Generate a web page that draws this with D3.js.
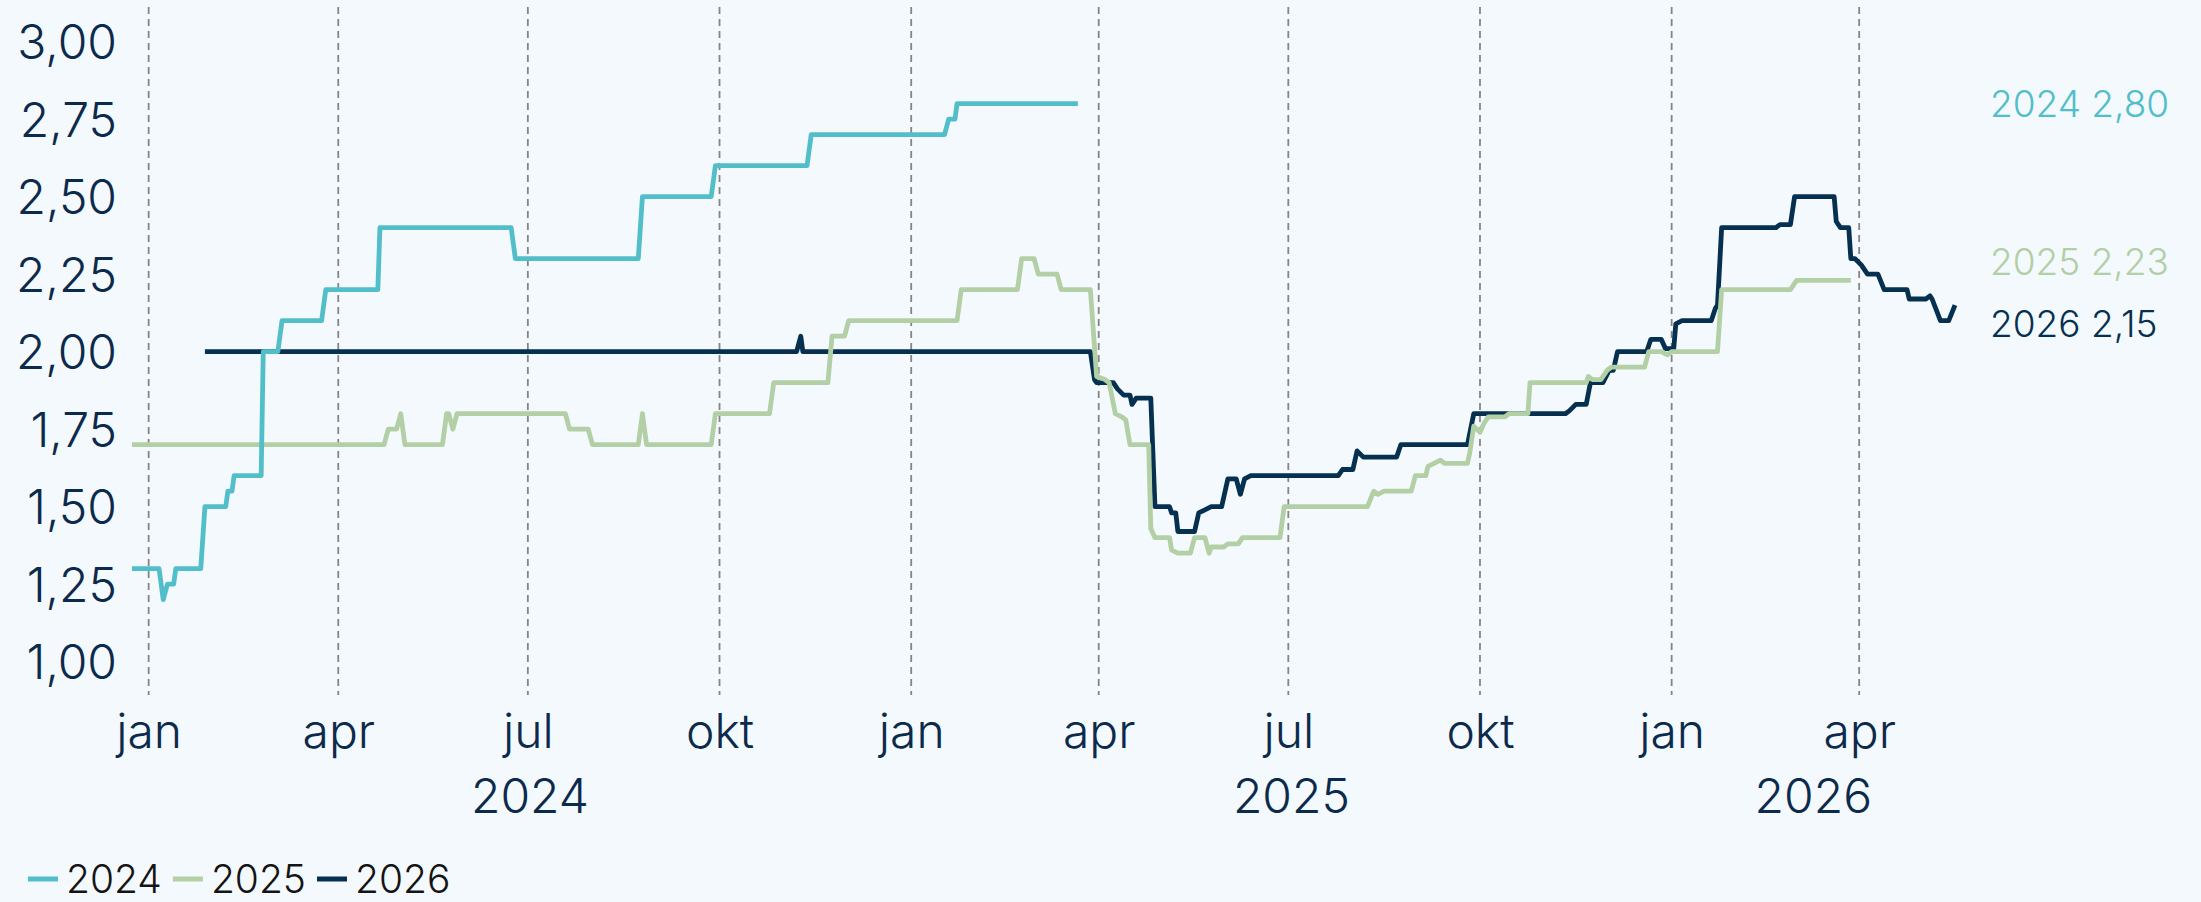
<!DOCTYPE html>
<html>
<head>
<meta charset="utf-8">
<script src="https://cdn.jsdelivr.net/npm/d3@7"></script>
<style>
  html, body { margin: 0; padding: 0; background: #f4f9fd; }
  svg { display: block; }
  text { font-family: Inter, "Open Sans", "DejaVu Sans", sans-serif; }
</style>
</head>
<body>
<svg id="chart" width="2201" height="902"></svg>
<script>
// Series definitions (legend order)
const seriesNames = ["2024", "2025", "2026"];
const seriesColors = ["#52bec9", "#b3cfa5", "#06304f"];

const dates2024 = ["2023-12-24","2024-01-06","2024-01-08","2024-01-10","2024-01-13","2024-01-14","2024-01-26","2024-01-28","2024-02-07","2024-02-08","2024-02-10","2024-02-11","2024-02-24","2024-02-25","2024-03-03","2024-03-05","2024-03-24","2024-03-26","2024-04-20","2024-04-21","2024-06-23","2024-06-25","2024-08-23","2024-08-25","2024-09-27","2024-09-29","2024-11-12","2024-11-14","2025-01-17","2025-01-19","2025-01-22","2025-01-23","2025-03-22"];
const values2024 = [1.30,1.30,1.20,1.25,1.25,1.30,1.30,1.50,1.50,1.55,1.55,1.60,1.60,2.00,2.00,2.10,2.10,2.20,2.20,2.40,2.40,2.30,2.30,2.50,2.50,2.60,2.60,2.70,2.70,2.75,2.75,2.80,2.80];

const dates2025 = ["2023-12-24","2024-04-23","2024-04-25","2024-04-29","2024-05-01","2024-05-03","2024-05-21","2024-05-23","2024-05-24","2024-05-26","2024-05-28","2024-07-19","2024-07-21","2024-07-30","2024-08-01","2024-08-23","2024-08-25","2024-08-27","2024-09-27","2024-09-29","2024-10-25","2024-10-27","2024-11-22","2024-11-24","2024-11-30","2024-12-02","2025-01-23","2025-01-25","2025-02-21","2025-02-23","2025-03-01","2025-03-03","2025-03-12","2025-03-14","2025-03-28","2025-03-31","2025-04-04","2025-04-06","2025-04-09","2025-04-12","2025-04-14","2025-04-16","2025-04-25","2025-04-26","2025-04-28","2025-05-05","2025-05-06","2025-05-09","2025-05-15","2025-05-17","2025-05-22","2025-05-24","2025-05-25","2025-05-31","2025-06-02","2025-06-07","2025-06-09","2025-06-27","2025-06-29","2025-08-08","2025-08-11","2025-08-13","2025-08-16","2025-08-29","2025-08-31","2025-09-05","2025-09-06","2025-09-09","2025-09-12","2025-09-14","2025-09-25","2025-09-26","2025-09-28","2025-10-01","2025-10-03","2025-10-05","2025-10-13","2025-10-15","2025-10-24","2025-10-25","2025-11-21","2025-11-22","2025-11-24","2025-11-28","2025-12-01","2025-12-03","2025-12-19","2025-12-21","2025-12-27","2025-12-30","2026-01-01","2026-01-23","2026-01-25","2026-02-27","2026-03-02","2026-03-28"];
const values2025 = [1.70,1.70,1.75,1.75,1.80,1.70,1.70,1.80,1.80,1.75,1.80,1.80,1.75,1.75,1.70,1.70,1.80,1.70,1.70,1.80,1.80,1.90,1.90,2.05,2.05,2.10,2.10,2.20,2.20,2.30,2.30,2.25,2.25,2.20,2.20,1.92,1.91,1.90,1.80,1.79,1.78,1.70,1.70,1.43,1.40,1.40,1.36,1.35,1.35,1.40,1.40,1.35,1.37,1.37,1.38,1.38,1.40,1.40,1.50,1.50,1.55,1.54,1.55,1.55,1.60,1.60,1.63,1.64,1.65,1.64,1.64,1.67,1.76,1.74,1.77,1.79,1.79,1.80,1.80,1.90,1.90,1.92,1.91,1.91,1.94,1.95,1.95,2.00,2.00,1.99,2.00,2.00,2.20,2.20,2.23,2.23];

const dates2026 = ["2024-01-28","2024-11-07","2024-11-09","2024-11-10","2025-03-28","2025-03-30","2025-03-31","2025-04-08","2025-04-10","2025-04-13","2025-04-16","2025-04-17","2025-04-19","2025-04-26","2025-04-28","2025-05-05","2025-05-06","2025-05-08","2025-05-09","2025-05-17","2025-05-19","2025-05-22","2025-05-25","2025-05-30","2025-06-02","2025-06-06","2025-06-08","2025-06-10","2025-06-13","2025-07-25","2025-07-27","2025-08-01","2025-08-03","2025-08-06","2025-08-22","2025-08-24","2025-09-25","2025-09-28","2025-11-11","2025-11-13","2025-11-16","2025-11-21","2025-11-23","2025-11-29","2025-12-02","2025-12-04","2025-12-06","2025-12-20","2025-12-22","2025-12-27","2025-12-29","2026-01-02","2026-01-03","2026-01-06","2026-01-20","2026-01-22","2026-01-23","2026-01-25","2026-02-20","2026-02-22","2026-02-27","2026-03-01","2026-03-20","2026-03-21","2026-03-23","2026-03-27","2026-03-28","2026-03-30","2026-04-02","2026-04-05","2026-04-10","2026-04-13","2026-04-24","2026-04-25","2026-05-03","2026-05-05","2026-05-06","2026-05-10","2026-05-14","2026-05-17"];
const values2026 = [2.00,2.00,2.05,2.00,2.00,1.91,1.90,1.90,1.88,1.86,1.86,1.83,1.85,1.85,1.50,1.50,1.48,1.48,1.42,1.42,1.48,1.49,1.50,1.50,1.59,1.59,1.54,1.59,1.60,1.60,1.62,1.62,1.68,1.66,1.66,1.70,1.70,1.80,1.80,1.81,1.83,1.83,1.90,1.90,1.94,1.94,2.00,2.00,2.04,2.04,2.01,2.01,2.09,2.10,2.10,2.14,2.15,2.40,2.40,2.41,2.41,2.50,2.50,2.42,2.40,2.40,2.30,2.30,2.28,2.25,2.25,2.20,2.20,2.17,2.17,2.18,2.17,2.10,2.10,2.15];

// Axis labels
const yTicks = [1.00, 1.25, 1.50, 1.75, 2.00, 2.25, 2.50, 2.75, 3.00];
const monthLabels = {0: "jan", 3: "apr", 6: "jul", 9: "okt"};
const yearLabels = [2024, 2025, 2026];

const parse = d3.utcParse("%Y-%m-%d");
const comma = v => d3.format(".2f")(v).replace(".", ",");

const series = [
  { name: seriesNames[0], color: seriesColors[0], dates: dates2024, values: values2024 },
  { name: seriesNames[1], color: seriesColors[1], dates: dates2025, values: values2025 },
  { name: seriesNames[2], color: seriesColors[2], dates: dates2026, values: values2026 }
].map(s => ({ ...s, points: s.dates.map((d, i) => ({ date: parse(d), value: s.values[i] })) }));

const svg = d3.select("#chart");
const W = 2201, H = 902;
svg.append("rect").attr("width", W).attr("height", H).attr("fill", "#f4f9fd");

const allDates = series.flatMap(s => s.points.map(p => p.date));
const x = d3.scaleUtc().domain(d3.extent(allDates)).range([132, 1955]);
const y = d3.scaleLinear().domain([1, 3]).range([661.7, 41.7]);

const navy = "#0c2a4b";

// Quarter gridlines (dashed)
const quarters = d3.utcMonth.every(3).range(x.domain()[0], x.domain()[1]);
svg.append("g").selectAll("line").data(quarters).join("line")
  .attr("x1", d => x(d)).attr("x2", d => x(d))
  .attr("y1", 7).attr("y2", 695)
  .attr("stroke", "#858585").attr("stroke-width", 1.8)
  .attr("stroke-dasharray", "7,5");

// Y axis labels
const yAxis = d3.axisLeft(y).tickValues(yTicks).tickFormat(comma).tickSize(0).tickPadding(0);
const gy = svg.append("g").attr("transform", "translate(117,0)").call(yAxis);
gy.select(".domain").remove();
gy.selectAll("text")
  .attr("fill", navy).attr("font-size", 48).attr("font-weight", 300)
  .attr("font-family", "Inter, 'Open Sans', sans-serif")
  .attr("dy", "0.35em");

// X axis: month labels
const xAxis = d3.axisBottom(x).tickValues(quarters)
  .tickFormat(d => monthLabels[d.getUTCMonth()]).tickSize(0).tickPadding(0);
const gx = svg.append("g").attr("transform", "translate(0,748)").call(xAxis);
gx.select(".domain").remove();
gx.selectAll("text")
  .attr("fill", navy).attr("font-size", 48).attr("font-weight", 300)
  .attr("font-family", "Inter, 'Open Sans', sans-serif")
  .attr("dy", 0).attr("y", 0);

// Year labels centred on the visible span of each year
svg.append("g").selectAll("text").data(yearLabels).join("text")
  .attr("x", yr => {
    const a = Math.max(+x.domain()[0], +Date.UTC(yr, 0, 1));
    const b = Math.min(+x.domain()[1], +Date.UTC(yr + 1, 0, 1));
    return (x(a) + x(b)) / 2;
  })
  .attr("y", 813)
  .attr("text-anchor", "middle")
  .attr("fill", navy).attr("font-size", 48).attr("font-weight", 300)
  .text(yr => yr);

// Lines (2026 drawn first, 2024 on top)
const line = d3.line().x(p => x(p.date)).y(p => y(p.value)).curve(d3.curveLinear);
svg.append("g").selectAll("path").data(series.slice().reverse()).join("path")
  .attr("d", s => line(s.points))
  .attr("fill", "none")
  .attr("stroke", s => s.color)
  .attr("stroke-width", 4.8)
  .attr("stroke-linejoin", "round")
  .attr("stroke-linecap", "butt");

// End labels with simple vertical separation
const ends = series.map(s => {
  const last = s.points[s.points.length - 1];
  return { s, value: last.value, ty: y(last.value) };
}).sort((a, b) => a.ty - b.ty);
const gap = 62;
for (let iter = 0; iter < 50; iter++) {
  for (let i = 1; i < ends.length; i++) {
    const d = ends[i].ty - ends[i - 1].ty;
    if (d < gap) {
      const shift = (gap - d) / 2;
      ends[i].ty += shift;
      ends[i - 1].ty -= shift;
    }
  }
}
svg.append("g").selectAll("text").data(ends).join("text")
  .attr("x", 1990).attr("y", e => e.ty).attr("dy", "0.35em")
  .attr("fill", e => e.s.color)
  .attr("font-size", 37).attr("font-weight", 300)
  .text(e => `${e.s.name} ${comma(e.value)}`);

// Legend
const legend = svg.append("g").attr("transform", "translate(28,879)");
let lx = 0;
series.forEach(s => {
  const g = legend.append("g").attr("transform", `translate(${lx},0)`);
  g.append("line").attr("x1", 0).attr("x2", 30).attr("y1", 0).attr("y2", 0)
    .attr("stroke", s.color).attr("stroke-width", 5);
  const t = g.append("text").attr("x", 38).attr("y", 14)
    .attr("fill", "#141414").attr("font-size", 39).attr("font-weight", 300)
    .text(s.name);
  lx += 38 + t.node().getComputedTextLength() + 11;
});
</script>
</body>
</html>
